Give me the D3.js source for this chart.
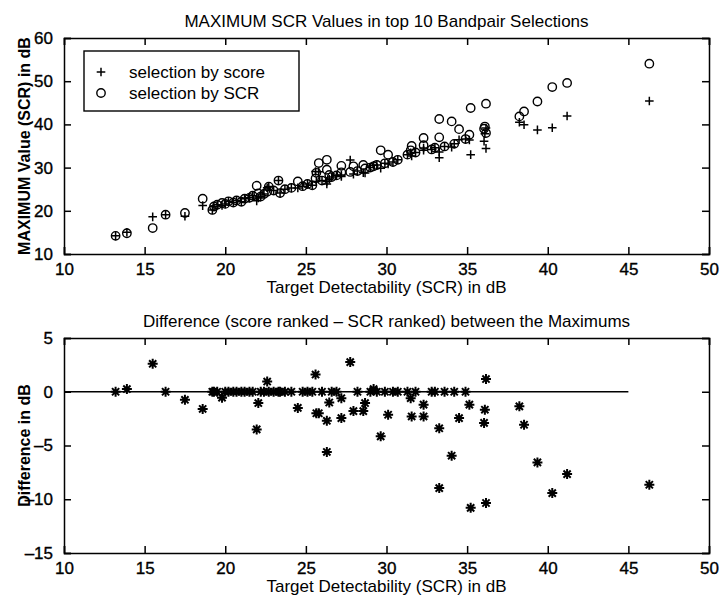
<!DOCTYPE html>
<html>
<head>
<meta charset="utf-8">
<script src="https://cdn.jsdelivr.net/npm/d3@7/dist/d3.min.js"></script>
<style>
  html, body { margin: 0; padding: 0; background: #fff; }
  svg { display: block; }
  text { font-family: "Liberation Sans", Arial, Helvetica, sans-serif; fill: #000; }
</style>
</head>
<body>
<svg id="chart" width="720" height="596"></svg>
<script>
// Target detectability (SCR, dB) of each test case
const detectability = [
  13.2, 13.9, 15.5, 16.3, 17.5, 18.6, 19.2, 19.3, 19.5, 19.8,
  20.0, 20.2, 20.5, 20.7, 21.0, 21.2, 21.5, 21.7, 21.95, 22.05,
  22.2, 22.4, 22.6, 22.7, 23.0, 23.3, 23.4, 23.7, 24.1, 24.5,
  24.8, 25.1, 25.4, 25.6, 25.65, 25.8, 26.0, 26.3, 26.3, 26.45,
  26.6, 26.9, 27.2, 27.2, 27.75, 27.95, 28.2, 28.56, 28.67, 29.0,
  29.2, 29.4, 29.64, 29.9, 30.1, 30.4, 30.7, 31.3, 31.5, 31.56,
  31.8, 32.3, 32.3, 32.8, 33.0, 33.27, 33.27, 33.6, 34.04, 34.2,
  34.5, 34.9, 35.14, 35.22, 36.05, 36.1, 36.17, 36.17, 38.24, 38.53,
  39.36, 40.28, 41.2, 46.3
];
// Maximum SCR among the top 10 band pairs, ranked by score
const maxByScore = [
  14.2, 15.05, 18.6, 19.1, 18.75, 21.2, 20.2, 21.0, 21.4, 21.25,
  21.6, 22.2, 21.9, 22.4, 22.1, 22.8, 23.0, 23.5, 22.3, 22.95,
  23.3, 23.9, 25.35, 25.6, 24.7, 27.0, 24.1, 25.0, 25.3, 25.3,
  25.7, 26.2, 25.9, 29.1, 26.8, 29.05, 27.0, 26.2, 26.8, 27.3,
  27.8, 28.2, 27.95, 28.3, 31.76, 28.5, 29.2, 28.8, 28.75, 30.0,
  30.55, 30.6, 29.85, 31.0, 30.86, 31.3, 31.8, 33.0, 33.4, 32.7,
  33.5, 34.55, 34.0, 34.2, 34.6, 33.6, 32.29, 34.9, 34.75, 35.5,
  36.45, 36.6, 36.4, 33.0, 36.1, 37.83, 39.18, 34.45, 40.49, 39.93,
  38.73, 39.22, 41.94, 45.4
];
// Maximum SCR among the top 10 band pairs, ranked by SCR
const maxBySCR = [
  14.2, 14.8, 16.0, 19.1, 19.5, 22.8, 20.2, 21.0, 21.4, 21.8,
  21.6, 22.2, 21.9, 22.4, 22.1, 22.8, 23.0, 23.5, 25.8, 24.0,
  23.3, 23.9, 24.4, 25.6, 24.7, 27.0, 24.1, 25.0, 25.3, 26.8,
  25.7, 26.2, 25.9, 27.5, 28.8, 31.05, 27.0, 31.8, 29.5, 28.3,
  27.8, 28.2, 30.4, 28.9, 29.0, 30.3, 29.2, 30.6, 29.8, 30.0,
  30.3, 30.6, 34.0, 31.0, 33.0, 31.3, 31.8, 33.0, 34.0, 35.0,
  33.5, 36.85, 35.2, 34.2, 34.6, 37.0, 41.25, 34.9, 40.7, 35.5,
  38.9, 36.6, 37.6, 43.8, 39.0, 39.5, 38.0, 44.8, 41.85, 43.0,
  45.3, 48.65, 49.6, 54.05
];
// Score-ranked maximum minus SCR-ranked maximum
const difference = [
  0, 0.25, 2.6, 0, -0.75, -1.6, 0, 0, 0, -0.55,
  0, 0, 0, 0, 0, 0, 0, 0, -3.5, -1.05,
  0, 0, 0.95, 0, 0, 0, 0, 0, 0, -1.5,
  0, 0, 0, 1.6, -2.0, -2.0, 0, -5.6, -2.7, -1.0,
  0, 0, -2.45, -0.6, 2.76, -1.8, 0, -1.8, -1.05, 0,
  0.25, 0, -4.15, 0, -2.14, 0, 0, 0, -0.6, -2.3,
  0, -2.3, -1.2, 0, 0, -3.4, -8.96, 0, -5.95, 0,
  -2.45, 0, -1.2, -10.8, -2.9, -1.67, 1.18, -10.35, -1.36, -3.07,
  -6.57, -9.43, -7.66, -8.65
];

const xTicks = [10, 15, 20, 25, 30, 35, 40, 45, 50];
const topYTicks = [10, 20, 30, 40, 50, 60];
const bottomYTicks = [-15, -10, -5, 0, 5];
const zeroLineSpan = [10, 45];

const legendLabels = ["selection by score", "selection by SCR"];
const topTitle = "MAXIMUM SCR Values in top 10 Bandpair Selections";
const bottomTitle = "Difference (score ranked \u2013 SCR ranked) between the Maximums";
const xLabel = "Target Detectability (SCR) in dB";
const topYLabel = "MAXIMUM Value (SCR) in dB";
const bottomYLabel = "Difference in dB";

const svg = d3.select("#chart");
const left = 64, right = 709;

const x = d3.scaleLinear().domain([10, 50]).range([left, right]);
const yTop = d3.scaleLinear().domain([10, 60]).range([254, 38]);
const yBot = d3.scaleLinear().domain([-15, 5]).range([553, 338]);

const tickLen = 7;

function drawFrame(yScale, yTicks, title, yLabel) {
  const g = svg.append("g");
  const [y0, y1] = yScale.range();
  // bottom axis with labels, inward ticks
  const ax = d3.axisBottom(x).tickValues(xTicks).tickSize(-tickLen).tickPadding(10)
    .tickFormat(d3.format("d"));
  g.append("g").attr("transform", `translate(0,${y0})`).call(ax)
    .call(s => s.selectAll("text").attr("class", "tk").attr("dy", "0.62em"));
  // top axis mirrored
  const axT = d3.axisTop(x).tickValues(xTicks).tickSize(-tickLen).tickFormat("");
  g.append("g").attr("transform", `translate(0,${y1})`).call(axT);
  // left axis
  const ay = d3.axisLeft(yScale).tickValues(yTicks).tickSize(-tickLen).tickPadding(11)
    .tickFormat(d => d < 0 ? "\u2013" + Math.abs(d) : d);
  g.append("g").attr("transform", `translate(${left},0)`).call(ay)
    .call(s => s.selectAll("text").attr("class", "tk"));
  // right axis mirrored
  const ayR = d3.axisRight(yScale).tickValues(yTicks).tickSize(-tickLen).tickFormat("");
  g.append("g").attr("transform", `translate(${right},0)`).call(ayR);
  g.selectAll(".domain").attr("stroke", "#000").attr("stroke-width", 1.5);
  g.selectAll(".tick line").attr("stroke", "#000").attr("stroke-width", 1.5);
  g.selectAll("text.tk")
    .style("font-size", "17px").style("font-family", "'Liberation Sans', Arial, sans-serif")
    .attr("stroke", "#000").attr("stroke-width", 0.35);

  g.append("text").attr("x", (left + right) / 2).attr("y", y1 - 11)
    .attr("text-anchor", "middle").style("font-size", "17px").text(title);
  g.append("text").attr("x", (left + right) / 2).attr("y", y0 + 39)
    .attr("text-anchor", "middle").style("font-size", "17px").text(xLabel);
  g.append("text")
    .attr("transform", `translate(30,${(y0 + y1) / 2}) rotate(-90)`)
    .attr("text-anchor", "middle").style("font-size", "16px").style("font-weight", "bold")
    .text(yLabel);
}

drawFrame(yTop, topYTicks, topTitle, topYLabel);
drawFrame(yBot, bottomYTicks, bottomTitle, bottomYLabel);

const idx = d3.range(detectability.length);
const plusPath = (cx, cy, r) => `M${cx - r},${cy}H${cx + r}M${cx},${cy - r}V${cy + r}`;
const starPath = (cx, cy, r) => {
  const d = r * 0.72;
  return `M${cx - r},${cy}H${cx + r}M${cx},${cy - r}V${cy + r}` +
    `M${cx - d},${cy - d}L${cx + d},${cy + d}M${cx - d},${cy + d}L${cx + d},${cy - d}`;
};

// upper panel: circles (ranked by SCR) and pluses (ranked by score)
const upper = svg.append("g");
upper.selectAll("circle.scr").data(idx).join("circle")
  .attr("class", "scr")
  .attr("cx", i => x(detectability[i]))
  .attr("cy", i => yTop(maxBySCR[i]))
  .attr("r", 4.2)
  .attr("fill", "none").attr("stroke", "#000").attr("stroke-width", 1.4);
upper.selectAll("path.score").data(idx).join("path")
  .attr("class", "score")
  .attr("d", i => plusPath(x(detectability[i]), yTop(maxByScore[i]), 4.3))
  .attr("fill", "none").attr("stroke", "#000").attr("stroke-width", 1.5);

// legend
const lg = svg.append("g");
lg.append("rect").attr("x", 84).attr("y", 51).attr("width", 215).attr("height", 60)
  .attr("fill", "#fff").attr("stroke", "#000").attr("stroke-width", 1.4);
lg.append("path").attr("d", plusPath(101, 72, 4.3)).attr("stroke", "#000").attr("stroke-width", 1.5);
lg.append("circle").attr("cx", 101).attr("cy", 93).attr("r", 4.2)
  .attr("fill", "none").attr("stroke", "#000").attr("stroke-width", 1.4);
lg.selectAll("text").data(legendLabels).join("text")
  .attr("x", 129).attr("y", (d, i) => 78 + i * 21)
  .style("font-size", "17px").text(d => d);

// lower panel: zero reference line and stars
const lower = svg.append("g");
lower.append("line")
  .attr("x1", x(zeroLineSpan[0])).attr("x2", x(zeroLineSpan[1]))
  .attr("y1", yBot(0)).attr("y2", yBot(0))
  .attr("stroke", "#000").attr("stroke-width", 1.7);
lower.selectAll("path.diff").data(idx).join("path")
  .attr("class", "diff")
  .attr("d", i => starPath(x(detectability[i]), yBot(difference[i]), 5))
  .attr("fill", "none").attr("stroke", "#000").attr("stroke-width", 2);
</script>
</body>
</html>
